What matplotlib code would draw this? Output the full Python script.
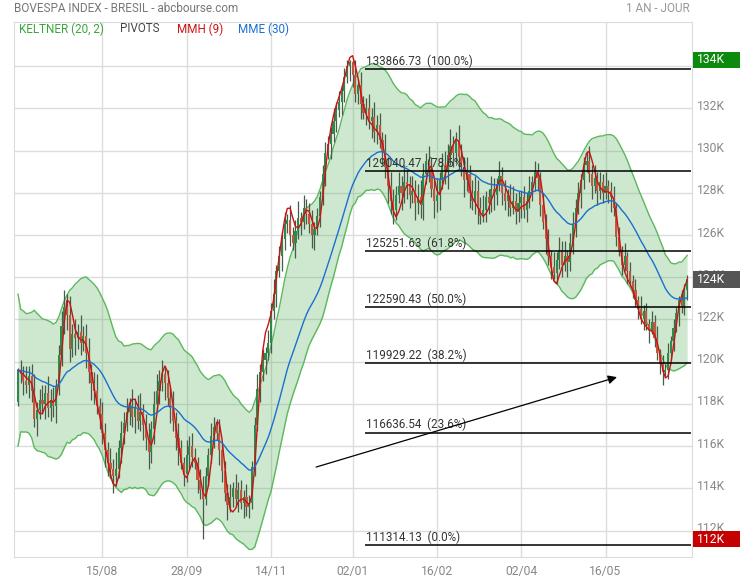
import math
import numpy as np
import pandas as pd
import matplotlib
matplotlib.use('Agg')
import matplotlib.pyplot as plt
from matplotlib.patches import Rectangle
from matplotlib.transforms import blended_transform_factory, ScaledTranslation

plt.rcParams['font.family'] = ['Roboto', 'DejaVu Sans']

# cours journaliers (en milliers de points)
ouvertures = [
    118.1, 119.6, 119.4, 119.1, 118.9, 119.3, 118.6, 117.3, 117.7, 118.2,
    118.0, 118.5, 117.8, 118.2, 117.9, 118.8, 120.3, 121.7, 122.6, 122.2,
    120.6, 121.3, 121.1, 121.4, 120.9, 121.2, 120.4, 119.5, 119.0, 118.6,
    117.9, 117.5, 116.6, 115.8, 115.2, 114.9, 114.6, 114.9, 115.9, 116.6,
    117.1, 117.6, 117.9, 117.4, 117.8, 117.2, 117.6, 117.0, 116.4, 115.7,
    116.8, 118.0, 118.6, 119.1, 119.4, 119.0, 118.3, 117.8, 117.2, 116.4,
    115.9, 115.2, 114.7, 115.6, 116.0, 115.5, 115.2, 114.4, 113.9, 113.5,
    114.6, 115.6, 116.5, 116.9, 116.6, 115.8, 114.8, 113.8, 113.2, 113.6,
    114.0, 113.5, 113.9, 113.3, 113.6, 113.1, 113.3, 115.0, 117.0, 118.7,
    119.5, 120.1, 120.4, 120.9, 122.4, 123.2, 124.3, 125.0, 125.8, 126.5,
    126.7, 126.0, 125.6, 126.2, 126.8, 126.6, 127.3, 127.0, 126.5, 126.0,
    126.3, 126.9, 127.8, 128.9, 129.9, 130.3, 130.8, 131.4, 131.9, 132.3,
    132.8, 133.5, 134.0, 134.2, 133.6, 132.7, 133.1, 132.2, 131.8, 132.0,
    131.4, 131.6, 130.9, 131.2, 130.5, 130.0, 129.2, 128.3, 127.6, 127.2,
    127.9, 128.3, 128.0, 128.5, 128.4, 127.9, 128.1, 127.5, 127.8, 127.4,
    128.9, 129.5, 129.1, 128.2, 127.6, 127.9, 128.6, 129.3, 129.0, 129.8,
    130.2, 129.9, 130.5, 129.7, 129.2, 128.6, 128.9, 128.0, 127.6, 128.1,
    127.3, 126.9, 127.2, 127.8, 127.5, 128.2, 127.9, 128.4, 128.8, 128.0,
    127.6, 127.9, 127.3, 127.6, 127.1, 127.5, 127.8, 127.2, 127.6, 128.1,
    128.5, 129.0, 128.7, 127.4, 126.6, 125.8, 125.0, 124.5, 124.2, 124.8,
    125.3, 124.6, 125.0, 124.7, 125.6, 126.5, 127.3, 128.0, 128.6, 129.3,
    129.5, 128.9, 128.3, 128.7, 128.1, 128.5, 128.0, 128.3, 128.1, 127.8,
    127.3, 125.9, 125.2, 124.6, 125.0, 124.3, 123.8, 123.4, 122.9, 122.5,
    122.0, 122.4, 121.8, 121.5, 121.9, 121.1, 120.4, 119.9, 119.5, 119.6,
    120.4, 121.0, 121.6, 122.3, 122.9, 122.6, 123.4]

clotures = [
    119.6, 119.4, 119.1, 118.9, 119.3, 118.6, 117.3, 117.7, 118.2, 118.0,
    118.5, 117.8, 118.2, 117.9, 118.8, 120.3, 121.7, 122.6, 122.2, 120.6,
    121.3, 121.1, 121.4, 120.9, 121.2, 120.4, 119.5, 119.0, 118.6, 117.9,
    117.5, 116.6, 115.8, 115.2, 114.9, 114.6, 114.9, 115.9, 116.6, 117.1,
    117.6, 117.9, 117.4, 117.8, 117.2, 117.6, 117.0, 116.4, 115.7, 116.8,
    118.0, 118.6, 119.1, 119.4, 119.0, 118.3, 117.8, 117.2, 116.4, 115.9,
    115.2, 114.7, 115.6, 116.0, 115.5, 115.2, 114.4, 113.9, 113.5, 114.6,
    115.6, 116.5, 116.9, 116.6, 115.8, 114.8, 113.8, 113.2, 113.6, 114.0,
    113.5, 113.9, 113.3, 113.6, 113.1, 113.3, 115.0, 117.0, 118.7, 119.5,
    120.1, 120.4, 120.9, 122.4, 123.2, 124.3, 125.0, 125.8, 126.5, 126.7,
    126.0, 125.6, 126.2, 126.8, 126.6, 127.3, 127.0, 126.5, 126.0, 126.3,
    126.9, 127.8, 128.9, 129.9, 130.3, 130.8, 131.4, 131.9, 132.3, 132.8,
    133.5, 134.0, 134.2, 133.6, 132.7, 133.1, 132.2, 131.8, 132.0, 131.4,
    131.6, 130.9, 131.2, 130.5, 130.0, 129.2, 128.3, 127.6, 127.2, 127.9,
    128.3, 128.0, 128.5, 128.4, 127.9, 128.1, 127.5, 127.8, 127.4, 128.9,
    129.5, 129.1, 128.2, 127.6, 127.9, 128.6, 129.3, 129.0, 129.8, 130.2,
    129.9, 130.5, 129.7, 129.2, 128.6, 128.9, 128.0, 127.6, 128.1, 127.3,
    126.9, 127.2, 127.8, 127.5, 128.2, 127.9, 128.4, 128.8, 128.0, 127.6,
    127.9, 127.3, 127.6, 127.1, 127.5, 127.8, 127.2, 127.6, 128.1, 128.5,
    129.0, 128.7, 127.4, 126.6, 125.8, 125.0, 124.5, 124.2, 124.8, 125.3,
    124.6, 125.0, 124.7, 125.6, 126.5, 127.3, 128.0, 128.6, 129.3, 129.5,
    128.9, 128.3, 128.7, 128.1, 128.5, 128.0, 128.3, 128.1, 127.8, 127.3,
    125.9, 125.2, 124.6, 125.0, 124.3, 123.8, 123.4, 122.9, 122.5, 122.0,
    122.4, 121.8, 121.5, 121.9, 121.1, 120.4, 119.9, 119.5, 119.6, 120.4,
    121.0, 121.6, 122.3, 122.9, 122.6, 123.4, 123.9]

# longueur des meches (haut / bas), estimees
meche_haute = [
    0.1, 0.5, 0.4, 0.7, 0.5, 0.6, 0.8, 0.4, 0.5, 0.7,
    0.4, 0.8, 0.5, 0.6, 0.4, 0.5, 0.7, 0.8, 0.6, 0.9,
    0.5, 0.7, 0.4, 0.8, 0.5, 0.6, 0.7, 0.4, 0.5, 0.8,
    0.4, 0.6, 0.5, 0.4, 0.7, 0.5, 0.8, 0.4, 0.6, 0.5,
    0.7, 0.4, 0.8, 0.5, 0.6, 0.9, 0.4, 0.5, 0.7, 0.4,
    0.6, 0.8, 0.5, 0.7, 0.4, 0.6, 0.5, 0.8, 0.4, 0.7,
    0.4, 0.3, 0.7, 0.5, 0.6, 0.4, 0.3, 0.5, 0.7, 0.4,
    0.3, 0.6, 0.5, 0.4, 0.7, 0.3, 0.5, 0.4, 0.6, 0.3,
    0.7, 0.4, 0.5, 0.3, 0.6, 0.4, 0.3, 0.4, 0.7, 0.4,
    0.5, 0.3, 0.6, 0.4, 0.7, 0.3, 0.5, 0.4, 0.6, 0.3,
    0.7, 0.4, 0.5, 0.8, 0.3, 0.6, 0.4, 0.5, 0.7, 0.3,
    0.4, 0.3, 0.4, 0.5, 0.4, 0.3, 0.6, 0.4, 0.5, 0.3,
    0.4, 0.3, 0.1, 0.1, 0.7, 0.3, 0.6, 0.4, 0.5, 0.7,
    0.4, 0.7, 0.5, 0.6, 0.4, 0.8, 0.5, 0.7, 0.6, 0.4,
    0.7, 0.5, 0.8, 0.6, 0.4, 0.7, 0.5, 0.6, 0.8, 0.5,
    0.4, 0.7, 0.6, 0.5, 0.8, 0.4, 0.6, 0.7, 0.5, 0.8,
    0.5, 0.4, 0.7, 0.6, 0.5, 0.8, 0.4, 0.6, 0.7, 0.5,
    0.5, 0.7, 0.3, 0.4, 0.6, 0.5, 0.3, 0.7, 0.4, 0.6,
    0.3, 0.5, 0.7, 0.4, 0.6, 0.3, 0.5, 0.4, 0.7, 0.3,
    0.5, 0.4, 0.3, 0.6, 0.4, 0.5, 0.3, 0.7, 0.4, 0.6,
    0.4, 0.7, 0.3, 0.5, 0.6, 0.4, 0.5, 0.3, 0.4, 0.5,
    0.7, 0.4, 0.6, 0.3, 0.5, 0.4, 0.7, 0.3, 0.4, 0.5,
    0.2, 0.5, 0.3, 0.6, 0.2, 0.4, 0.3, 0.5, 0.2, 0.6,
    0.3, 0.4, 0.2, 0.5, 0.3, 0.6, 0.2, 0.4, 0.3, 0.5,
    0.2, 0.4, 0.3, 0.2, 0.5, 0.3, 0.2]

meche_basse = [
    0.2, 0.4, 0.7, 0.4, 0.6, 0.5, 0.4, 0.8, 0.4, 0.5,
    0.7, 0.4, 0.6, 0.5, 0.8, 0.4, 0.5, 0.4, 0.7, 0.6,
    0.4, 0.8, 0.5, 0.6, 0.4, 0.7, 0.5, 0.8, 0.6, 0.4,
    0.7, 0.5, 0.8, 0.6, 0.4, 0.8, 0.5, 0.4, 0.7, 0.5,
    0.4, 0.6, 0.5, 0.8, 0.4, 0.5, 0.7, 0.6, 0.8, 0.5,
    0.7, 0.4, 0.6, 0.5, 0.8, 0.4, 0.7, 0.5, 0.6, 0.8,
    0.3, 0.6, 0.4, 0.7, 0.5, 0.3, 0.6, 0.4, 1.9, 0.3,
    0.5, 0.4, 0.6, 0.3, 0.7, 0.5, 0.4, 0.7, 0.3, 0.5,
    0.4, 0.6, 0.3, 0.7, 0.4, 0.5, 0.3, 0.4, 0.3, 0.6,
    0.4, 0.7, 0.3, 0.5, 0.4, 0.6, 0.3, 0.7, 0.5, 0.4,
    0.5, 0.3, 0.7, 0.4, 0.6, 0.3, 0.5, 0.4, 0.6, 0.7,
    0.3, 0.5, 0.4, 0.6, 0.3, 0.7, 0.4, 0.5, 0.3, 0.6,
    0.5, 0.3, 0.7, 0.6, 0.4, 0.5, 0.7, 0.3, 0.6, 0.4,
    0.8, 0.5, 0.6, 0.4, 0.7, 0.5, 0.8, 0.6, 0.7, 0.5,
    0.4, 0.8, 0.5, 0.7, 0.6, 0.4, 0.8, 0.5, 0.6, 0.7,
    0.5, 0.6, 0.4, 0.8, 0.5, 0.7, 0.4, 0.6, 0.8, 0.5,
    0.7, 0.5, 0.6, 0.4, 0.8, 0.5, 0.7, 0.4, 0.6, 0.8,
    0.4, 0.3, 0.6, 0.5, 0.4, 0.7, 0.5, 0.3, 0.6, 0.4,
    0.7, 0.4, 0.3, 0.6, 0.5, 0.7, 0.4, 0.6, 0.3, 0.5,
    0.4, 0.6, 0.5, 0.3, 0.7, 0.4, 0.6, 0.3, 0.5, 0.4,
    0.6, 0.3, 0.7, 0.4, 0.5, 0.6, 0.3, 0.7, 0.4, 0.3,
    0.4, 0.6, 0.3, 0.7, 0.4, 0.5, 0.3, 0.6, 0.7, 0.4,
    0.4, 0.2, 0.5, 0.3, 0.6, 0.2, 0.4, 0.3, 0.5, 0.2,
    0.5, 0.3, 0.6, 0.2, 0.4, 0.3, 0.5, 0.6, 0.2, 0.4,
    0.3, 0.5, 0.2, 0.6, 0.3, 0.4, 0.5]

dates_labels = ['15/08', '28/09', '14/11', '02/01', '16/02', '02/04', '16/05']
dates_barres = [31, 62, 93, 123, 154, 185, 216]

# retracements de Fibonacci
fib_haut = 133866.73
fib_bas = 111314.13
fib_ratios = [0.0, 0.236, 0.382, 0.5, 0.618, 0.786, 1.0]
fib_debut = 127.6

# fleche (barre, niveau en K)
fleche_depart = (109.6, 115.01)
fleche_arrivee = (220.2, 119.27)

o = np.array(ouvertures)
c = np.array(clotures)
h = np.maximum(o, c) + np.array(meche_haute)
l = np.minimum(o, c) - np.array(meche_basse)
n = len(c)
assert len(o) == n and len(h) == n and len(l) == n
x = np.arange(n)

# indicateurs
s = pd.Series(c)
mme30 = s.ewm(span=30, adjust=False).mean().values
mil = s.ewm(span=20, adjust=False).mean().values
prec = np.r_[o[0], c[:-1]]
tr = pd.Series(np.maximum(h - l, np.maximum(np.abs(h - prec), np.abs(l - prec))))
atr = tr.rolling(20, min_periods=1).mean().values
kel_haut = mil + 2 * atr
kel_bas = mil - 2 * atr


def wma(v, p):
    out = np.empty(len(v))
    for k in range(len(v)):
        w = v[max(0, k - p + 1):k + 1]
        poids = np.arange(1, len(w) + 1)
        out[k] = (w * poids).sum() / poids.sum()
    return out


mmh9 = wma(2 * wma(c, 4) - wma(c, 9), 3)

fig = plt.figure(figsize=(7.4, 5.8), dpi=100)
ax = fig.add_axes([14 / 740, 23 / 580, 677.5 / 740, 535 / 580])

ax.fill_between(x, kel_bas, kel_haut, color='#4caf50', alpha=0.28, lw=0, zorder=1)
ax.plot(x, kel_haut, color='#5cb85c', lw=1, zorder=1.5)
ax.plot(x, kel_bas, color='#5cb85c', lw=1, zorder=1.5)

hausse = c >= o
couleurs = np.where(hausse, '#2e8a4c', '#c4563e')
ax.vlines(x, l, h, color='#4a5a4a', lw=0.9, zorder=2)
ax.bar(x, np.maximum(np.abs(c - o), 0.06), bottom=np.minimum(o, c), width=0.78,
       color=couleurs, lw=0, zorder=3)

ax.plot(x, mmh9, color='#cc1111', lw=1, zorder=4)
ax.plot(x, mme30, color='#1a6fd1', lw=1, zorder=4)

# Fibonacci
for r in fib_ratios:
    niv = fib_bas + r * (fib_haut - fib_bas)
    ax.hlines(niv / 1000, fib_debut, n + 0.6, color='black', lw=1.1, zorder=5)
    ax.text(fib_debut + 0.3, niv / 1000 + 0.06,
            f'{math.floor(niv * 100) / 100:.2f}  ({r * 100:.1f}%)',
            fontsize=8.4, color='#333333', va='bottom', ha='left', zorder=6)

ax.annotate('', xy=fleche_arrivee, xytext=fleche_depart,
            arrowprops=dict(arrowstyle='-|>', color='black', lw=0.9,
                            mutation_scale=13, shrinkA=0, shrinkB=0), zorder=6)

ax.set_xlim(-1.47, n + 0.6)
ax.set_ylim(110.75, 136.09)
ax.set_yticks(np.arange(112, 135, 2))
ax.set_yticklabels([f'{v}K' for v in range(112, 135, 2)])
ax.set_xticks(dates_barres)
ax.set_xticklabels(dates_labels)
ax.yaxis.tick_right()
ax.tick_params(axis='both', length=0, labelsize=8.7, colors='#888888')
ax.tick_params(axis='y', pad=4)
ax.tick_params(axis='x', pad=6)
# les libelles de prix sont un peu au-dessus des lignes
for lab in ax.get_yticklabels():
    lab.set_transform(lab.get_transform() + ScaledTranslation(0, 0.035, fig.dpi_scale_trans))
ax.grid(True, color='#dcdcdc', lw=1)
ax.set_axisbelow(True)
for sp in ax.spines.values():
    sp.set_color('#dcdcdc')

# etiquettes de prix a droite
trans = blended_transform_factory(fig.transFigure, ax.transData)
hb = 0.78
for v, col in [(h.max(), '#0b8a0b'), (c[-1], '#555555'), (l.min(), '#c40000')]:
    ax.add_patch(Rectangle((693 / 740, v - hb / 2), 47 / 740, hb, transform=trans,
                           facecolor=col, edgecolor='none', clip_on=False, zorder=7))
    ax.text(697 / 740, v, f'{round(v)}K', transform=trans, color='white',
            fontsize=8.7, va='center', ha='left', clip_on=False, zorder=8)

fig.text(14 / 740, 1 - 9 / 580, 'BOVESPA INDEX - BRESIL - abcbourse.com',
         fontsize=8.5, color='#777777', va='center', ha='left')
fig.text(690 / 740, 1 - 9 / 580, '1 AN - JOUR', fontsize=8.5, color='#999999',
         va='center', ha='right')

legende = [('KELTNER (20, 2)', '#3aa53a', 19), ('PIVOTS', '#444444', 120),
           ('MMH (9)', '#cc1111', 177), ('MME (30)', '#1a6fd1', 238)]
for txt, col, px in legende:
    fig.text(px / 740, 1 - 29 / 580, txt, fontsize=8.4, color=col,
             va='center', ha='left')

fig.savefig('out.png', dpi=100)
